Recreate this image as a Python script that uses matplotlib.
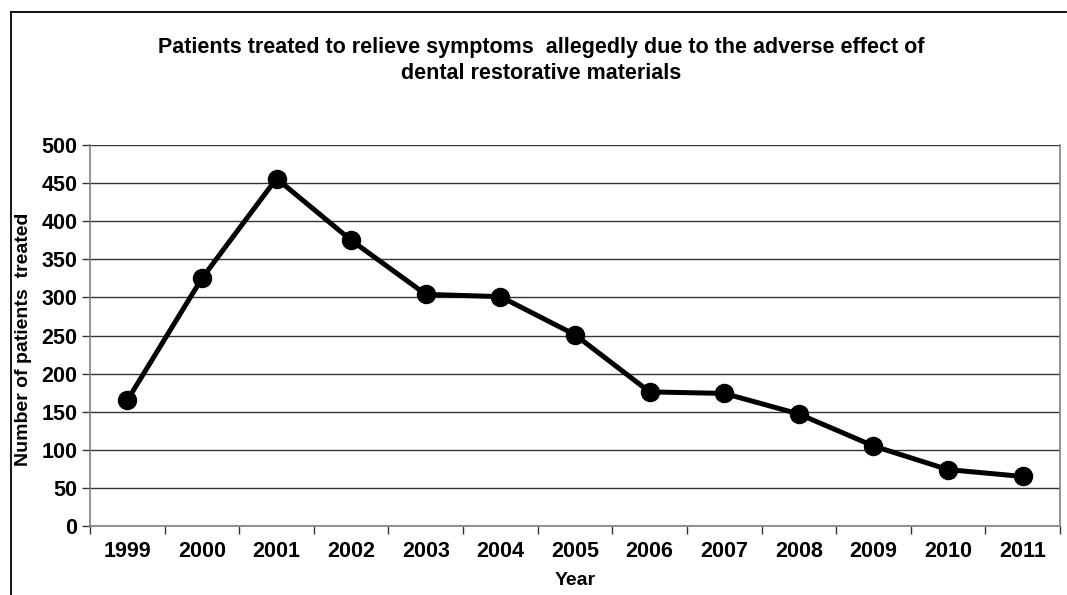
import matplotlib
matplotlib.use("Agg")
import matplotlib.pyplot as plt
from matplotlib.lines import Line2D
import numpy as np

plt.rcParams['font.family'] = ['Liberation Sans', 'DejaVu Sans']

years = ['1999', '2000', '2001', '2002', '2003', '2004', '2005',
         '2006', '2007', '2008', '2009', '2010', '2011']
patients = [165, 325, 456, 375, 304, 301, 251, 176, 174, 147, 105, 74, 65]

fig = plt.figure(figsize=(10.67, 5.95), dpi=100)
ax = fig.add_axes([90/1067, 69/595, 970/1067, 381/595])

x = np.arange(len(years))
ax.plot(x, patients, color='black', lw=3.6, marker='o', markersize=13,
        solid_joinstyle='round', zorder=3)

ax.set_xlim(-0.5, len(years) - 0.5)
ax.set_ylim(0, 500)
ax.set_yticks(np.arange(0, 501, 50))
ax.set_xticks(x)
ax.set_xticklabels(years)
ax.set_xticks(np.arange(-0.5, len(years)), minor=True)
ax.tick_params(axis='x', which='major', length=0, pad=11, labelsize=15.5)
ax.tick_params(axis='x', which='minor', length=6, width=1, color='#333333')
ax.tick_params(axis='y', length=6, width=1, color='#333333', labelsize=15.5, pad=3)
for lab in ax.get_xticklabels() + ax.get_yticklabels():
    lab.set_fontweight('bold')

ax.grid(axis='y', color='#333333', lw=1)
ax.set_axisbelow(True)
for s in ['left', 'bottom', 'right']:
    ax.spines[s].set_color('#808080')
    ax.spines[s].set_linewidth(1.2)
ax.spines['top'].set_visible(False)

ax.set_ylabel('Number of patients  treated', fontsize=14, fontweight='bold')
ax.yaxis.set_label_coords(-0.06, 0.49)
ax.set_xlabel('Year', fontsize=14, fontweight='bold', labelpad=7)

fig.text(0.507, 0.921, 'Patients treated to relieve symptoms  allegedly due to the adverse effect of',
         ha='center', va='center', fontsize=15.5, fontweight='bold')
fig.text(0.507, 0.877, 'dental restorative materials',
         ha='center', va='center', fontsize=15.5, fontweight='bold')

# outer chart frame (left and top edges visible)
fig.add_artist(Line2D([11/1067, 11/1067], [0, 1 - 12/595], color='black', lw=1.3,
                      transform=fig.transFigure))
fig.add_artist(Line2D([11/1067, 1066/1067], [1 - 12/595, 1 - 12/595], color='black',
                      lw=1.3, transform=fig.transFigure))

fig.savefig('out.png', dpi=100)
